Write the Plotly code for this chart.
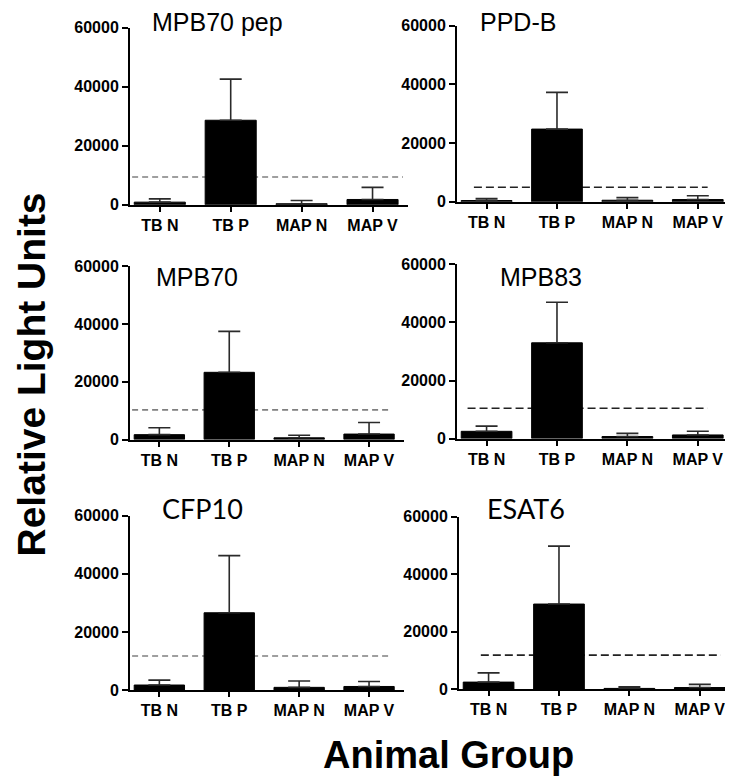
import plotly.graph_objects as go

W, H = 733, 779

groups = ["TB N", "TB P", "MAP N", "MAP V"]

titles = ["MPB70 pep", "PPD-B", "MPB70", "MPB83", "CFP10", "ESAT6"]

means_mpb70pep = [900, 28650, 350, 1800]
upper_mpb70pep = [2000, 42600, 1450, 5900]
means_ppdb = [450, 24800, 550, 780]
upper_ppdb = [1100, 37300, 1450, 2100]
means_mpb70 = [1700, 23300, 600, 1900]
upper_mpb70 = [4100, 37500, 1500, 5900]
means_mpb83 = [2500, 33000, 700, 1250]
upper_mpb83 = [4300, 47000, 1800, 2500]
means_cfp10 = [1700, 26600, 900, 1200]
upper_cfp10 = [3400, 46300, 3100, 2900]
means_esat6 = [2400, 29600, 200, 500]
upper_esat6 = [5600, 49800, 800, 1600]

cutoffs = [9400, 5000, 10300, 10450, 11700, 11800]

y_ticks = [0, 20000, 40000, 60000]

all_means = [means_mpb70pep, means_ppdb, means_mpb70, means_mpb83, means_cfp10, means_esat6]
all_upper = [upper_mpb70pep, upper_ppdb, upper_mpb70, upper_mpb83, upper_cfp10, upper_esat6]

# layout (pixels): y-axis x position, x-axis end, top (60000) and bottom (0)
panel_px = [
    (122, 400, 12, 193),
    (449, 725, 10, 190),
    (122, 396, 256, 433),
    (449, 725, 254, 432),
    (122, 396, 511, 689),
    (451, 727, 512, 688),
]
# dashed cutoff line extents (in category units) and styles
cut_ext = [(-0.39, 3.43), (-0.18, 3.14), (-0.39, 3.30), (-0.27, 3.14), (-0.39, 3.30), (-0.11, 3.30)]
cut_col = ["#808080", "#222222", "#808080", "#222222", "#808080", "#222222"]
cut_dash = ["6px,4px", "8px,4px", "6px,4px", "8px,4px", "6px,4px", "8px,4px"]

title_pos = [(142, 15), (470, 15), (146, 276), (490, 276), (152, 513), (477, 513)]
title_font = ["Liberation Sans, Arial", "Liberation Sans, Arial", "Liberation Sans, Arial",
              "Liberation Sans, Arial", "Lato, Carlito, sans-serif", "Lato, Carlito, sans-serif"]
title_size = [25, 25, 25, 25, 27, 27]

fig = go.Figure()
layout = dict(width=W, height=H, autosize=False, margin=dict(l=0, r=0, t=0, b=0),
              paper_bgcolor="white", plot_bgcolor="white", showlegend=False,
              shapes=[], annotations=[])

FONT = "Liberation Sans, Arial, sans-serif"

for i in range(6):
    n = "" if i == 0 else str(i + 1)
    x0, x1, yt, yb = panel_px[i]
    m = all_means[i]
    up = [u - v for u, v in zip(all_upper[i], m)]
    fig.add_trace(go.Bar(
        x=groups, y=m, xaxis="x" + n, yaxis="y" + n,
        width=0.72,
        marker=dict(color="black", line=dict(color="black", width=1)),
        error_y=dict(type="data", symmetric=False, array=up, arrayminus=[0] * 4,
                     color="#2a2a2a", thickness=1.6, width=11),
        hoverinfo="skip",
    ))
    layout["xaxis" + n] = dict(
        domain=[x0 / W, x1 / W], anchor="y" + n, type="category",
        categoryorder="array", categoryarray=groups,
        range=[-0.42, 3.5], showgrid=False, zeroline=False,
        showline=True, linecolor="black", linewidth=2,
        ticks="outside", ticklen=5, tickwidth=1.5, tickcolor="black",
        tickfont=dict(family=FONT, size=16, color="black", weight="bold"),
        fixedrange=True,
    )
    layout["yaxis" + n] = dict(
        domain=[1 - yb / H, 1 - yt / H], anchor="x" + n,
        range=[0, 60000], tickvals=y_ticks, ticktext=[str(t) for t in y_ticks],
        showgrid=False, zeroline=False,
        showline=True, linecolor="black", linewidth=2,
        ticks="outside", ticklen=6, tickwidth=1.5, tickcolor="black",
        tickfont=dict(family=FONT, size=16, color="black", weight="bold"),
        fixedrange=True,
    )
    xa, xb = cut_ext[i]
    layout["shapes"].append(dict(
        type="line", xref="x" + n, yref="y" + n, x0=xa, x1=xb,
        y0=cutoffs[i], y1=cutoffs[i], layer="below",
        line=dict(color=cut_col[i], width=1.6, dash=cut_dash[i]),
    ))
    tx, ty = title_pos[i]
    layout["annotations"].append(dict(
        text=titles[i], xref="paper", yref="paper", x=tx / W, y=1 - (ty - 0.35 * title_size[i]) / H,
        xanchor="left", yanchor="middle", showarrow=False,
        font=dict(family=title_font[i], size=title_size[i], color="black"),
    ))

layout["annotations"].append(dict(
    text="Relative Light Units", xref="paper", yref="paper", x=0, y=1 - 367 / H,
    xanchor="left", yanchor="middle", textangle=-90, showarrow=False,
    font=dict(family=FONT, size=39, color="black", weight="bold"),
))
layout["annotations"].append(dict(
    text="Animal Group", xref="paper", yref="paper", x=441 / W, y=1 - 755 / H,
    xanchor="center", yanchor="middle", showarrow=False,
    font=dict(family=FONT, size=38, color="black", weight="bold"),
))

fig.update_layout(**layout)
fig.write_html("out.html", include_plotlyjs=True, config={"displayModeBar": False})
